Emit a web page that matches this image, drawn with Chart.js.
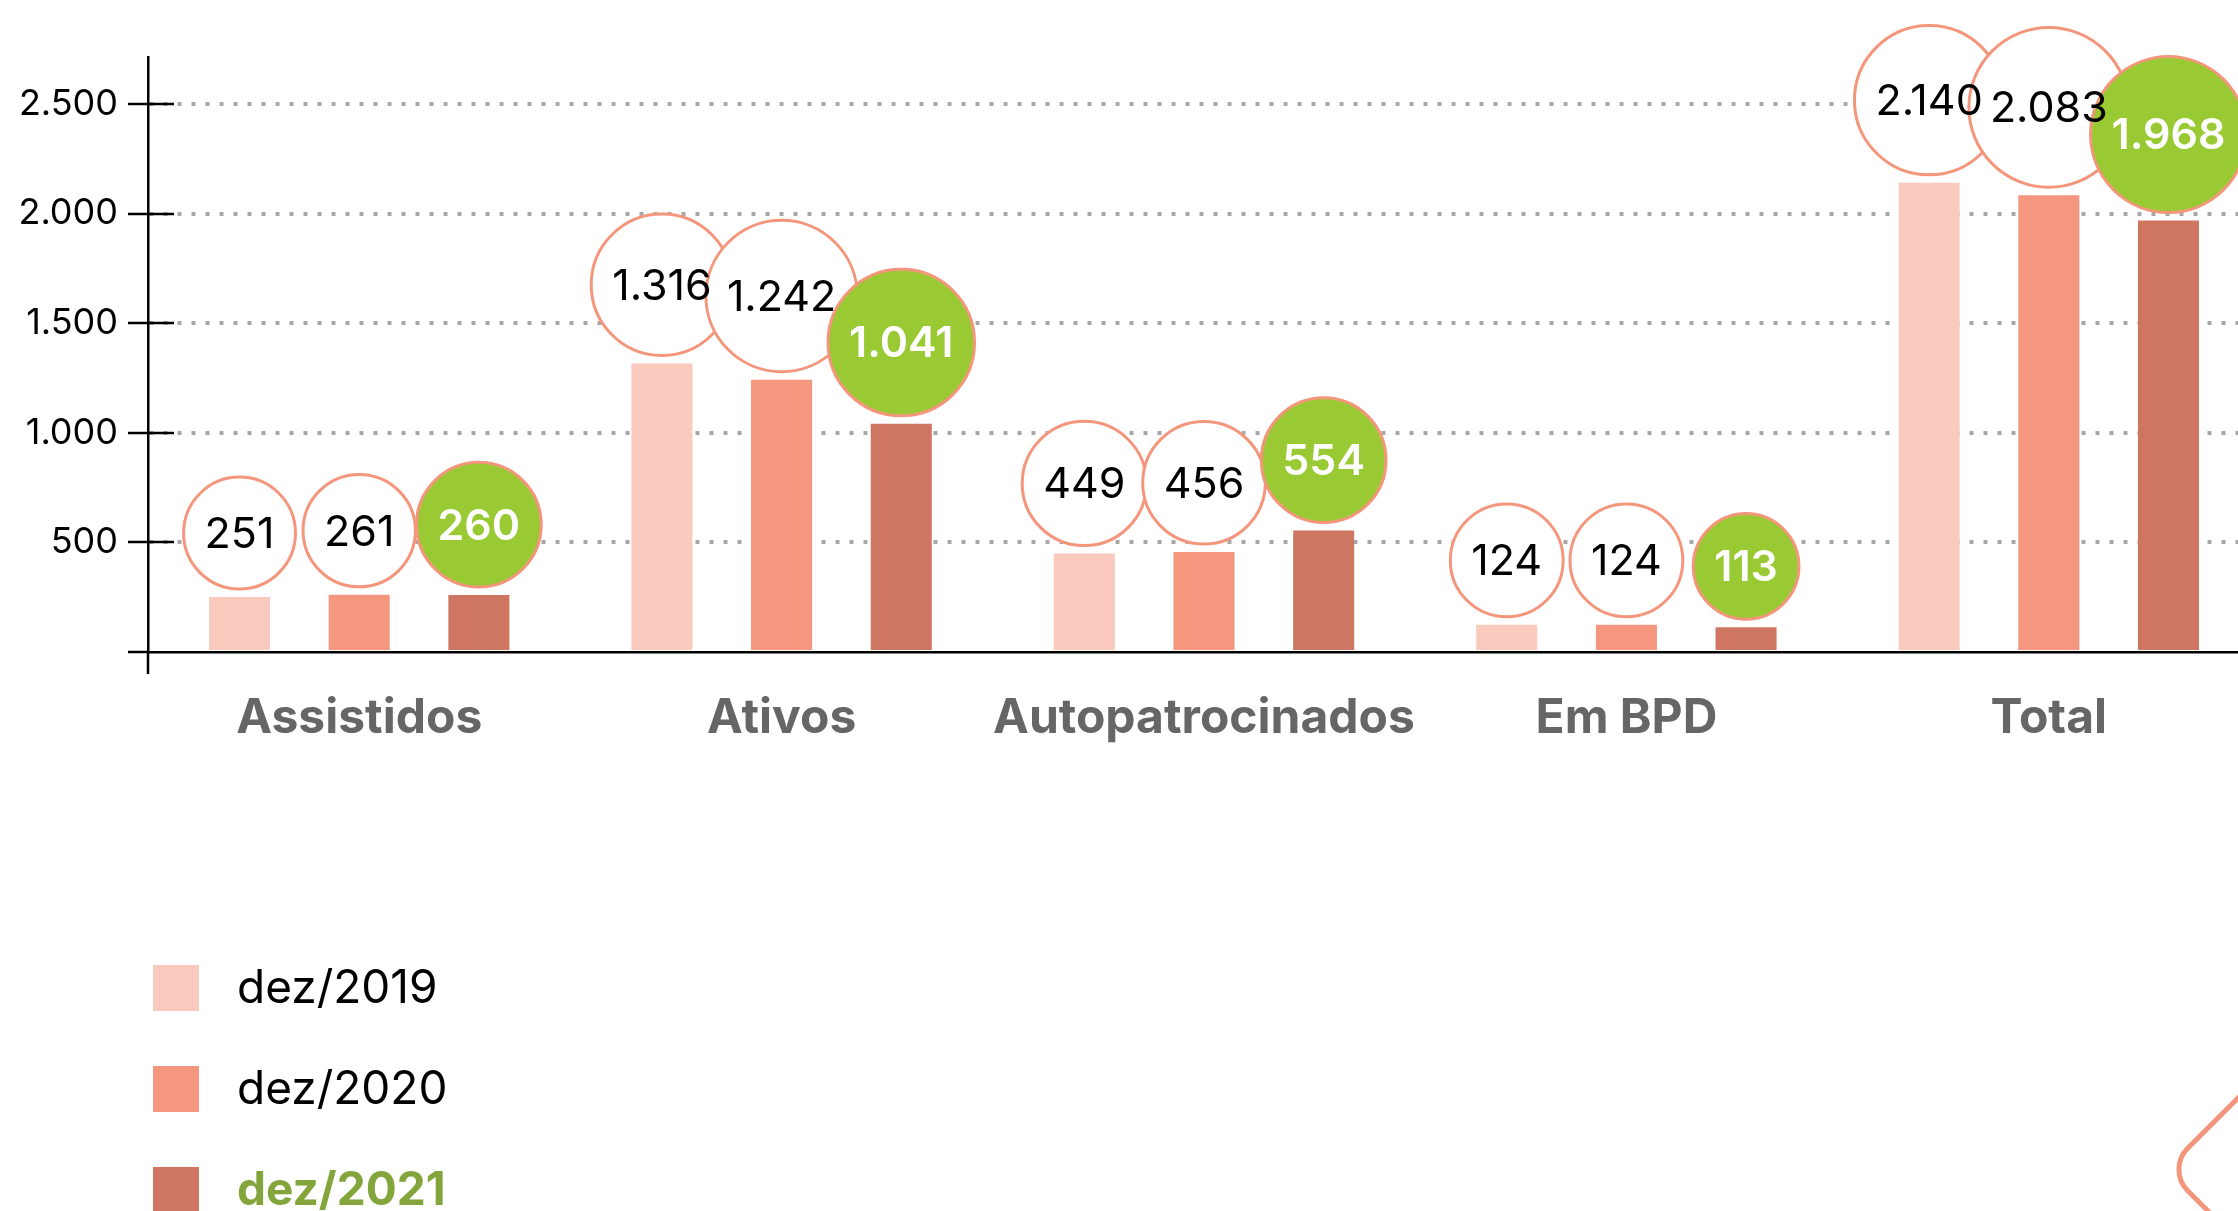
<!DOCTYPE html>
<html lang="pt-BR">
<head>
<meta charset="utf-8">
<title>Participantes</title>
<script src="https://cdn.jsdelivr.net/npm/chart.js@4.4.1/dist/chart.umd.min.js"></script>
<style>
    html, body { margin: 0; padding: 0; background: #fff; overflow: hidden; }
    #wrap { position: relative; width: 2238px; height: 1211px; overflow: hidden; }
    #grafico { position: absolute; left: 0; top: 0; }
    #deco { position: absolute; left: 2150px; top: 1080px; }
</style>
</head>
<body>
<div id="wrap">
    <canvas id="grafico" width="2260" height="1211"></canvas>
    <svg id="deco" width="100" height="140" viewBox="0 0 100 140">
        <path d="M 100 6 L 37.7 68.3 A 30 30 0 0 0 37.7 110.7 L 70 143" fill="none" stroke="#f4967c" stroke-width="5" stroke-linecap="round"/>
    </svg>
</div>
<script>
// Datos
const categorias = ['Assistidos', 'Ativos', 'Autopatrocinados', 'Em BPD', 'Total'];
const series = ['dez/2019', 'dez/2020', 'dez/2021'];
const dez2019 = [251, 1316, 449, 124, 2140];
const dez2020 = [261, 1242, 456, 124, 2083];
const dez2021 = [260, 1041, 554, 113, 1968];
const ticksY = [500, 1000, 1500, 2000, 2500];

const colores = ['#facabe', '#f5977f', '#cf7663'];
const fuente = 'Inter';

function formatar(v) {
    return String(v).replace(/\B(?=(\d{3})+(?!\d))/g, '.');
}

// Burbujas con el valor encima de cada barra
const pluginBolhas = {
    id: 'bolhas',
    afterDatasetsDraw(chart) {
        const ctx = chart.ctx;
        const n = chart.data.datasets.length;
        const bolhas = [];
        chart.data.datasets.forEach((ds, i) => {
            const meta = chart.getDatasetMeta(i);
            const destaque = i === n - 1;
            meta.data.forEach((bar, j) => {
                const texto = formatar(ds.data[j]);
                const font = (destaque ? '600 ' : '400 ') + '43px ' + fuente;
                ctx.font = font;
                const w = ctx.measureText(texto).width;
                const r = w / 2 + 21;
                bolhas.push({ texto, font, destaque, r, cx: bar.x, cy: bar.y - r - 8 });
            });
        });
        ctx.save();
        // primero los circulos, despues los textos para que no se tapen
        bolhas.forEach(b => {
            ctx.beginPath();
            ctx.arc(b.cx, b.cy, b.r, 0, Math.PI * 2);
            ctx.fillStyle = b.destaque ? '#9aca33' : '#ffffff';
            ctx.fill();
            ctx.lineWidth = 3;
            ctx.strokeStyle = '#f4967c';
            ctx.stroke();
        });
        ctx.textAlign = 'center';
        ctx.textBaseline = 'middle';
        bolhas.forEach(b => {
            ctx.font = b.font;
            ctx.fillStyle = b.destaque ? '#ffffff' : '#000000';
            ctx.fillText(b.texto, b.cx, b.cy + 2);
        });
        ctx.restore();
    }
};

// Marcas del eje y leyenda
const pluginEixos = {
    id: 'eixos',
    afterDraw(chart) {
        const { ctx, chartArea } = chart;
        const y = chart.scales.y;
        ctx.save();
        ctx.strokeStyle = '#000';
        ctx.lineWidth = 2.5;
        y.ticks.forEach(t => {
            if (t.value === 0) return;
            const py = Math.round(y.getPixelForValue(t.value));
            ctx.beginPath();
            ctx.moveTo(chartArea.left, py);
            ctx.lineTo(chartArea.left + 26, py);
            ctx.stroke();
        });
        ctx.beginPath();
        ctx.moveTo(chartArea.left, chartArea.bottom);
        ctx.lineTo(chartArea.left, chartArea.bottom + 22);
        ctx.stroke();

        // leyenda vertical
        const n = chart.data.datasets.length;
        chart.data.datasets.forEach((ds, i) => {
            const top = 965 + i * 101;
            ctx.fillStyle = ds.backgroundColor;
            ctx.fillRect(153, top, 46, 46);
            const destaque = i === n - 1;
            ctx.font = (destaque ? '700 ' : '400 ') + '46px ' + fuente;
            ctx.fillStyle = destaque ? '#84a43c' : '#000';
            ctx.textAlign = 'left';
            ctx.textBaseline = 'middle';
            ctx.fillText(ds.label, 237, top + 24);
        });
        ctx.restore();
    }
};

const datos = {
    labels: categorias,
    datasets: [
        { label: series[0], data: dez2019, backgroundColor: colores[0] },
        { label: series[1], data: dez2020, backgroundColor: colores[1] },
        { label: series[2], data: dez2021, backgroundColor: colores[2] }
    ]
};

const config = {
    type: 'bar',
    data: datos,
    options: {
        responsive: false,
        animation: false,
        devicePixelRatio: 1,
        categoryPercentage: 0.85,
        barPercentage: 0.51,
        layout: { padding: { top: 57, left: 0, right: 0, bottom: 0 } },
        plugins: {
            legend: { display: false },
            tooltip: { enabled: false }
        },
        scales: {
            x: {
                grid: { display: false, drawTicks: false },
                border: { display: true, color: '#000', width: 2.5 },
                ticks: {
                    color: '#666',
                    font: { family: fuente, size: 48, weight: 'bold' },
                    padding: 38,
                    maxRotation: 0,
                    autoSkip: false
                },
                afterFit: s => { s.height = 1211 - 652; }
            },
            y: {
                min: 0,
                max: 2714,
                afterBuildTicks: s => { s.ticks = [0, ...ticksY].map(v => ({ value: v })); },
                grid: {
                    color: c => (c.tick && c.tick.value === 0) ? 'rgba(0,0,0,0)' : '#a7a7a7',
                    lineWidth: 4,
                    tickLength: 20,
                    tickColor: '#000',
                    tickWidth: 2.5
                },
                border: { color: '#000', width: 2.5, dash: [4, 10] },
                ticks: {
                    color: '#000',
                    font: { family: fuente, size: 36 },
                    padding: 10,
                    callback: v => v === 0 ? '' : formatar(v)
                },
                afterFit: s => { s.width = 148; }
            }
        }
    },
    plugins: [pluginBolhas, pluginEixos]
};

const migrafico = document.getElementById('grafico');
new Chart(migrafico, config);
</script>
</body>
</html>
